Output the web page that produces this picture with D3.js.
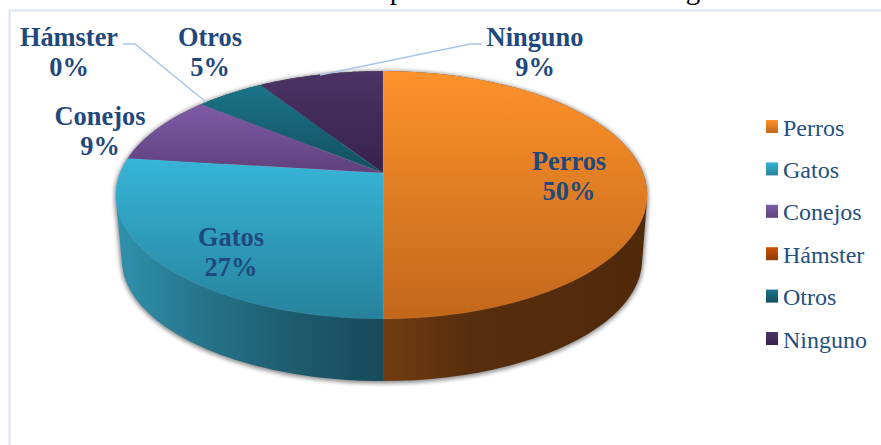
<!DOCTYPE html>
<html>
<head>
<meta charset="utf-8">
<style>
  html, body { margin: 0; padding: 0; background: #fff; overflow: hidden; }
  svg { display: block; }
  text { font-family: "Liberation Serif", serif; }
</style>
</head>
<body>
<svg id="chart"></svg>
<script src="https://cdn.jsdelivr.net/npm/d3@7"></script>
<script>
'use strict';

var categories = ['Perros', 'Gatos', 'Conejos', 'Hámster', 'Otros', 'Ninguno'];
var values = [50, 27, 9, 0, 5, 9];

var topColors = [['#fd922b', '#c2671b'], ['#37b5d8', '#26829c'], ['#7f5ba7', '#5f407d'],
  ['#cc5406', '#8c3a05'], ['#1b7489', '#124f5f'], ['#4b3364', '#37224c']];
var wallColors = [['#713c11', '#572e0d', '#532c0c', '#4f290b'], ['#3092ae', '#25748a', '#1e5b6d', '#164b5b'],
  ['#5f407d', '#3c2850'], ['#8c3a05', '#5c2603'], ['#124f5f', '#0c3540'], ['#37224c', '#241632']];

// centre of each data label, first line baseline
var labelSpots = [[569, 170], [231, 246], [100, 125], [69, 46], [210, 46], [535, 46]];
var leaders = [
  null, null, null,
  [[123, 44], [135, 44], [206, 102]],
  null,
  [[320, 75], [470, 44], [482, 44]]
];

var width = 881,
  height = 445,
  tilt = 0.1774,
  labelColor = '#1f497d';

var svg = d3.select('#chart').attr('width', width).attr('height', height);
var defs = svg.append('defs');

defs.append('filter').attr('id', 'soft')
  .attr('x', '-10%').attr('y', '-10%').attr('width', '120%').attr('height', '120%')
  .append('feGaussianBlur').attr('stdDeviation', 2.2);

function addGradient (id, stops, horizontal) {
  var g = defs.append('linearGradient').attr('id', id)
    .attr('x1', 0).attr('y1', 0)
    .attr('x2', horizontal ? 1 : 0).attr('y2', horizontal ? 0 : 1);
  stops.forEach(function (c, i) {
    g.append('stop').attr('offset', i / (stops.length - 1)).attr('stop-color', c);
  });
}

categories.forEach(function (c, i) {
  addGradient('top' + i, topColors[i], false);
  addGradient('wall' + i, wallColors[i], true);
});

// frame of the chart area, cut by the image on the right and bottom
svg.append('path')
  .attr('d', 'M' + width + ',10.5H9.5V' + height)
  .attr('fill', 'none')
  .attr('stroke', '#dce6f2')
  .attr('stroke-width', 2);

// only the descenders of the title are left in the picture
svg.selectAll('.title-glyph')
  .data([['p', 397], ['g', 693]])
  .enter().append('text')
  .attr('class', 'title-glyph')
  .attr('x', function (d) { return d[1]; })
  .attr('y', -1)
  .attr('text-anchor', 'middle')
  .attr('font-size', 29)
  .attr('fill', '#000')
  .text(function (d) { return d[0]; });

// perspective disc: scales map the projected unit circle to pixels
var topX = d3.scaleLinear().domain([-1, 0, 1]).range([383 - 263, 383, 383 + 260]);
var topY = d3.scaleLinear().domain([-1, 1]).range([173 + 120, 173 - 120]);
var baseX = d3.scaleLinear().domain([-1, 0, 1]).range([383 - 257, 383, 383 + 255]);
var baseY = d3.scaleLinear().domain([-1, 1]).range([238 + 117.7, 238 - 117.7]);

function project (angle, sx, sy) {
  var w = 1 + tilt * Math.cos(angle);
  return [sx(Math.sin(angle) / w), sy(Math.cos(angle) / w)];
}

function arcPoints (a0, a1, sx, sy) {
  return d3.range(0, 61).map(function (i) {
    return project(a0 + (a1 - a0) * i / 60, sx, sy);
  });
}

var line = d3.line();
var slices = d3.pie().sort(null).value(function (d) { return d; })(values)
  .map(function (s, i) { s.i = i; return s; });

svg.append('path')
  .attr('d', line(d3.polygonHull(arcPoints(0, 2 * Math.PI, topX, topY)
    .concat(arcPoints(0, 2 * Math.PI, baseX, baseY)))) + 'Z')
  .attr('transform', 'translate(0,1)')
  .attr('fill', '#000')
  .attr('stroke', '#000')
  .attr('stroke-width', 3)
  .attr('opacity', 0.45)
  .attr('filter', 'url(#soft)');

var visible = slices.filter(function (s) { return s.value > 0; });

// hull of both arcs keeps the wall flush with the disc at its widest point
svg.selectAll('.wall')
  .data(visible.slice().reverse())
  .enter().append('path')
  .attr('class', 'wall')
  .attr('d', function (s) {
    var top = arcPoints(s.startAngle, s.endAngle, topX, topY);
    var base = arcPoints(s.startAngle, s.endAngle, baseX, baseY);
    return line(d3.polygonHull(top.concat(base))) + 'Z';
  })
  .attr('fill', function (s) { return 'url(#wall' + s.i + ')'; });

svg.selectAll('.slice')
  .data(visible)
  .enter().append('path')
  .attr('class', 'slice')
  .attr('d', function (s) {
    var pts = arcPoints(s.startAngle, s.endAngle, topX, topY);
    pts.unshift([topX(0), topY(0)]);
    return line(pts) + 'Z';
  })
  .attr('fill', function (s) { return 'url(#top' + s.i + ')'; })
  .attr('stroke', '#fff')
  .attr('stroke-opacity', 0.1)
  .attr('stroke-width', 0.7);

svg.selectAll('.leader')
  .data(leaders.filter(Boolean))
  .enter().append('path')
  .attr('class', 'leader')
  .attr('d', line)
  .attr('fill', 'none')
  .attr('stroke', '#a7c6ea')
  .attr('stroke-width', 1.5);

var labels = svg.selectAll('.label')
  .data(slices)
  .enter().append('text')
  .attr('class', 'label')
  .attr('text-anchor', 'middle')
  .attr('font-size', 26.4)
  .attr('font-weight', 'bold')
  .attr('fill', labelColor);

labels.append('tspan')
  .attr('x', function (s) { return labelSpots[s.i][0]; })
  .attr('y', function (s) { return labelSpots[s.i][1]; })
  .text(function (s) { return categories[s.i]; });

labels.append('tspan')
  .attr('x', function (s) { return labelSpots[s.i][0]; })
  .attr('y', function (s) { return labelSpots[s.i][1] + 30; })
  .text(function (s) { return s.value + '%'; });

// legend
var legendY = d3.scalePoint().domain(categories).range([126.5, 338.5]);

var legend = svg.selectAll('.legend')
  .data(categories)
  .enter().append('g')
  .attr('class', 'legend')
  .attr('transform', function (d) { return 'translate(766,' + legendY(d) + ')'; });

legend.append('rect')
  .attr('y', -6.5)
  .attr('width', 12)
  .attr('height', 13)
  .attr('fill', function (d, i) { return 'url(#top' + i + ')'; });

legend.append('text')
  .attr('x', 17)
  .attr('y', 9)
  .attr('font-size', 24)
  .attr('fill', '#24507f')
  .text(function (d) { return d; });
</script>
</body>
</html>
